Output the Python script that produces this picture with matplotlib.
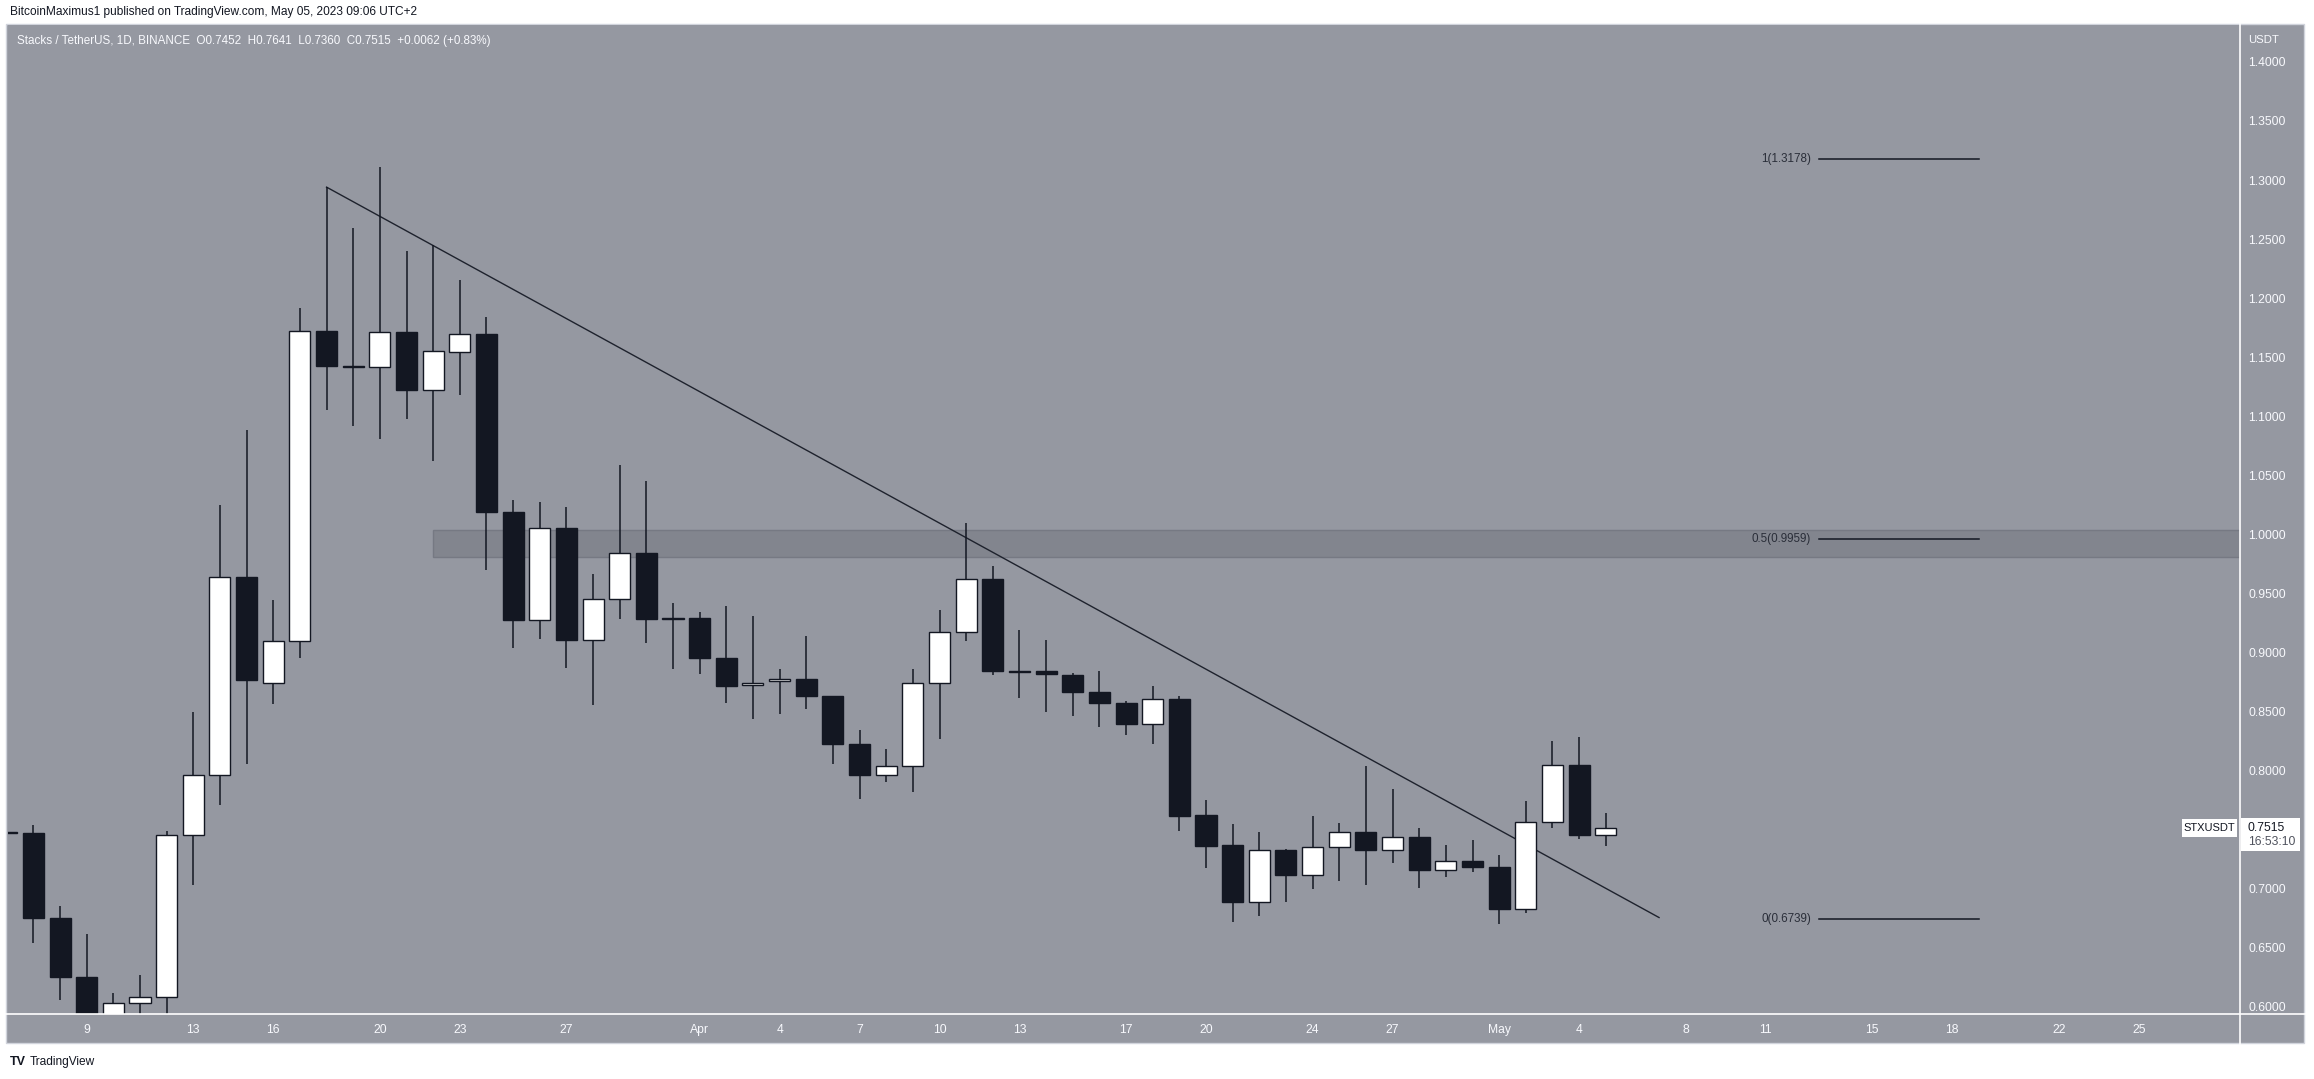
import matplotlib
matplotlib.use("Agg")
import matplotlib.pyplot as plt
from matplotlib.patches import Rectangle
import pandas as pd

W, H = 2314, 1079
BG = "#9598a1"
DARK = "#131722"

# daily candles, Mar 6 .. May 5 2023
dates = pd.date_range("2023-03-06", "2023-05-05", freq="D")
opens = [0.7480, 0.7466, 0.6747, 0.6254, 0.5900, 0.6029, 0.6085, 0.7452, 0.7960, 0.9642,
         0.8744, 0.9092, 1.1723, 1.1428, 1.1418, 1.1714, 1.1220, 1.1540, 1.1695, 1.0187,
         0.9271, 1.0051, 0.9101, 0.9449, 0.9839, 0.9280, 0.9294, 0.8951, 0.8721, 0.8754,
         0.8777, 0.8627, 0.8223, 0.7960, 0.8040, 0.8740, 0.9172, 0.9623, 0.8840, 0.8838,
         0.8810, 0.8660, 0.8575, 0.8397, 0.8608, 0.7622, 0.7369, 0.6886, 0.7327, 0.7114,
         0.7350, 0.7479, 0.7330, 0.7437, 0.7156, 0.7232, 0.7184, 0.6824, 0.7560, 0.8049,
         0.7452]
highs = [0.7520, 0.7536, 0.6851, 0.6616, 0.6118, 0.6268, 0.7490, 0.8495, 1.0248, 1.0882,
         0.9444, 1.1916, 1.2940, 1.2593, 1.3109, 1.2400, 1.2447, 1.2156, 1.1841, 1.0290,
         1.0276, 1.0234, 0.9661, 1.0586, 1.0455, 0.9421, 0.9341, 0.9393, 0.9308, 0.8862,
         0.9139, 0.8630, 0.8345, 0.8180, 0.8862, 0.9360, 1.0097, 0.9731, 0.9191, 0.9106,
         0.8824, 0.8838, 0.8589, 0.8716, 0.8630, 0.7751, 0.7546, 0.7479, 0.7336, 0.7613,
         0.7554, 0.8035, 0.7841, 0.7512, 0.7372, 0.7411, 0.7285, 0.7743, 0.8245, 0.8279,
         0.7641]
lows = [0.7440, 0.6536, 0.6057, 0.5800, 0.5760, 0.5900, 0.5900, 0.7029, 0.7711, 0.8054,
        0.8566, 0.8951, 1.1056, 1.0915, 1.0807, 1.0976, 1.0619, 1.1178, 0.9694, 0.9040,
        0.9111, 0.8871, 0.8556, 0.9284, 0.9078, 0.8857, 0.8815, 0.8575, 0.8434, 0.8481,
        0.8519, 0.8058, 0.7758, 0.7899, 0.7814, 0.8265, 0.9092, 0.8805, 0.8613, 0.8495,
        0.8458, 0.8369, 0.8298, 0.8223, 0.7484, 0.7170, 0.6712, 0.6765, 0.6886, 0.6993,
        0.7063, 0.7027, 0.7218, 0.7001, 0.7100, 0.7139, 0.6698, 0.6796, 0.7515, 0.7423,
        0.7360]
closes = [0.7466, 0.6747, 0.6254, 0.5900, 0.6029, 0.6085, 0.7452, 0.7960, 0.9642, 0.8763,
          0.9092, 1.1723, 1.1423, 1.1418, 1.1714, 1.1220, 1.1554, 1.1695, 1.0187, 0.9271,
          1.0051, 0.9101, 0.9449, 0.9839, 0.9280, 0.9294, 0.8951, 0.8711, 0.8744, 0.8777,
          0.8627, 0.8223, 0.7960, 0.8040, 0.8740, 0.9172, 0.9623, 0.8838, 0.8836, 0.8815,
          0.8660, 0.8575, 0.8397, 0.8608, 0.7616, 0.7358, 0.6886, 0.7324, 0.7111, 0.7350,
          0.7476, 0.7330, 0.7437, 0.7153, 0.7232, 0.7181, 0.6824, 0.7560, 0.8049, 0.7456,
          0.7515]

# drawings
trend_dates = ["2023-03-18", "2023-05-07"]
trend_prices = [1.2940, 0.6754]
zone_start = "2023-03-22"
zone_low, zone_high = 0.9808, 1.0035
fib_start, fib_end = "2023-05-13", "2023-05-19"
fib_levels = ["1", "0.5", "0"]
fib_prices = [1.3178, 0.9959, 0.6739]

tick_dates = ["2023-03-09", "2023-03-13", "2023-03-16", "2023-03-20", "2023-03-23",
              "2023-03-27", "2023-04-01", "2023-04-04", "2023-04-07", "2023-04-10",
              "2023-04-13", "2023-04-17", "2023-04-20", "2023-04-24", "2023-04-27",
              "2023-05-01", "2023-05-04", "2023-05-08", "2023-05-11", "2023-05-15",
              "2023-05-18", "2023-05-22", "2023-05-25"]
tick_labels = ["9", "13", "16", "20", "23", "27", "Apr", "4", "7", "10", "13", "17",
               "20", "24", "27", "May", "4", "8", "11", "15", "18", "22", "25"]
price_ticks = [0.60, 0.65, 0.70, 0.75, 0.80, 0.85, 0.90, 0.95, 1.00, 1.05, 1.10,
               1.15, 1.20, 1.25, 1.30, 1.35, 1.40]

plt.rcParams["font.family"] = ["Liberation Sans", "DejaVu Sans"]


def day(d):
    return (pd.Timestamp(d) - dates[0]).days


x = [day(d) for d in dates]

fig = plt.figure(figsize=(W / 100, H / 100), dpi=100)
fig.patch.set_facecolor("white")

# pixel layout
L, R, T, B = 8, 2240, 25, 1014
bg = fig.add_axes([0, 0, 1, 1], zorder=0)
bg.set_xlim(0, W); bg.set_ylim(H, 0); bg.axis("off")
bg.add_patch(Rectangle((L - 2, T - 1), 2306 - L, 1044 - T, facecolor=BG,
                       edgecolor="#d1d4dc", lw=1))

ax = fig.add_axes([L / W, (H - B) / H, (R - L) / W, (B - T) / H], zorder=1)
ax.set_facecolor(BG)
for s in ax.spines.values():
    s.set_visible(False)

# resistance zone
z0 = day(zone_start)
ax.add_patch(Rectangle((z0, zone_low), 200, zone_high - zone_low, facecolor="#82858e",
                       edgecolor="#767983", lw=1.0, zorder=1))

# trend line
ax.plot([day(d) for d in trend_dates], trend_prices, color="#1e222d", lw=1.0, zorder=1.5)

# candles
ax.vlines(x, lows, highs, color=DARK, lw=1.1, zorder=2)
bottoms = [min(o, c) for o, c in zip(opens, closes)]
heights = [max(abs(c - o), 0.0008) for o, c in zip(opens, closes)]
cols = ["white" if c > o else DARK for o, c in zip(opens, closes)]
ax.bar(x, heights, bottom=bottoms, width=0.79, color=cols, edgecolor=DARK,
       linewidth=1.0, zorder=3)

# fib levels
f0, f1 = day(fib_start), day(fib_end)
for lv, p in zip(fib_levels, fib_prices):
    ax.plot([f0, f1], [p, p], color=DARK, lw=1.1, zorder=3)
    ax.text(f0 - 0.3, p, f"{lv}({p:.4f})", ha="right", va="center",
            fontsize=8.4, color="#2a2e39", zorder=3)

ax.set_xlim((L - 6.75) / 26.65, (R - 6.75) / 26.65)
ax.set_ylim(0.5937, 1.4313)
ax.set_xticks([day(d) for d in tick_dates])
ax.set_xticklabels(tick_labels)
ax.set_yticks(price_ticks)
ax.set_yticklabels([f"{p:.4f}" for p in price_ticks])
ax.yaxis.tick_right()
ax.tick_params(axis="y", length=0, pad=5.8, labelcolor="#f8f9fd", labelsize=8.7)
ax.tick_params(axis="x", length=0, pad=7.0, labelcolor="#f8f9fd", labelsize=8.7)

# overlay: separators, labels, header
fg = fig.add_axes([0, 0, 1, 1], zorder=2)
fg.set_xlim(0, W); fg.set_ylim(H, 0); fg.axis("off"); fg.patch.set_alpha(0)
fg.plot([R, R], [T - 1, 1044], color="white", lw=1.2)
fg.plot([L - 2, 2306], [B, B], color="white", lw=1.2)

yp = H - ax.transData.transform((0, closes[-1]))[1]
fg.add_patch(Rectangle((R + 1, yp - 10), 59, 33, facecolor="white", edgecolor="none"))
fg.text(2248, yp, f"{closes[-1]:.4f}", ha="left", va="center", fontsize=8.7, color=DARK)
fg.text(2248, yp + 14, "16:53:10", ha="left", va="center", fontsize=8.7, color="#50535e")
fg.add_patch(Rectangle((2182, yp - 9), 55, 18, facecolor="white", edgecolor="none"))
fg.text(2209.5, yp, "STXUSDT", ha="center", va="center", fontsize=8, color=DARK)

fg.text(2248, 40, "USDT", ha="left", va="center", fontsize=8.2, color="#f8f9fd")
fg.text(10, 12, "BitcoinMaximus1 published on TradingView.com, May 05, 2023 09:06 UTC+2",
        ha="left", va="center", fontsize=8.6, color=DARK)
fg.text(17, 41, "Stacks / TetherUS, 1D, BINANCE  O0.7452  H0.7641  L0.7360  C0.7515  "
        "+0.0062 (+0.83%)", ha="left", va="center", fontsize=8.4, color="#f8f9fd")
fg.text(10, 1062, "TV", ha="left", va="center", fontsize=9, fontweight="bold", color=DARK)
fg.text(30, 1062, "TradingView", ha="left", va="center", fontsize=8.6, color=DARK)

fig.savefig("out.png", dpi=100, facecolor="white")
